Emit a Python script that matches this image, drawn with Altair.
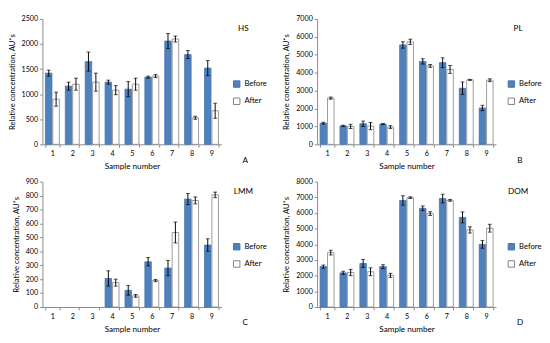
import altair as alt
import pandas as pd

samples = ["1", "2", "3", "4", "5", "6", "7", "8", "9"]
groups = ["Before", "After"]

hs_before = [1420, 1160, 1650, 1240, 1100, 1340, 2060, 1790, 1520]
hs_before_err = [60, 80, 190, 40, 150, 20, 150, 80, 150]
hs_after = [900, 1200, 1240, 1080, 1200, 1360, 2100, 530, 670]
hs_after_err = [140, 120, 180, 90, 120, 30, 60, 30, 150]

pl_before = [1180, 1030, 1150, 1130, 5550, 4630, 4560, 3130, 2030]
pl_before_err = [50, 40, 150, 30, 180, 150, 270, 350, 150]
pl_after = [2580, 1000, 1020, 960, 5720, 4380, 4180, 3600, 3580]
pl_after_err = [60, 120, 200, 80, 150, 80, 220, 30, 80]

lmm_before = [None, None, None, 205, 120, 325, 280, 775, 445]
lmm_before_err = [None, None, None, 55, 35, 30, 55, 40, 45]
lmm_after = [None, None, None, 175, 80, 190, 535, 765, 805]
lmm_after_err = [None, None, None, 25, 10, 8, 75, 25, 20]

dom_before = [2580, 2180, 2780, 2580, 6800, 6300, 6920, 5720, 4000]
dom_before_err = [100, 100, 250, 120, 300, 150, 280, 350, 250]
dom_after = [3470, 2200, 2250, 2020, 6980, 5960, 6810, 4920, 5030]
dom_after_err = [150, 200, 250, 130, 50, 120, 60, 200, 250]

FONT = "Lato"
BLUE = "#4f81bd"
W, H = 187, 131


def panel(name, letter, before, before_err, after, after_err, ymax, ystep):
    rows = []
    for i, s in enumerate(samples):
        for g, vals, errs in (("Before", before, before_err), ("After", after, after_err)):
            v = vals[i]
            if v is None:
                continue
            rows.append(dict(sample=s, group=g, value=v, lo=v - errs[i], hi=v + errs[i]))
    df = pd.DataFrame(rows)

    x_axis = alt.Axis(title="Sample number", labelAngle=0, tickBand="extent",
                      labelFontSize=7.5, titleFontSize=8.5, titleFontWeight="normal",
                      domainColor="#888888", tickColor="#888888", tickSize=3,
                      labelFont=FONT, titleFont=FONT, labelPadding=3, titlePadding=5)
    x_scale = alt.Scale(domain=samples, paddingInner=0.3, paddingOuter=0.15)
    xo = alt.XOffset("group:N", scale=alt.Scale(domain=groups, paddingInner=0.12))
    y_axis = alt.Axis(title="Relative concentration, AU*s", values=list(range(0, ymax + 1, ystep)),
                      format="d", labelOverlap=False,
                      labelFontSize=7.5, titleFontSize=8, titleFontWeight="normal",
                      domainColor="#888888", tickColor="#888888", tickSize=3, grid=False,
                      labelFont=FONT, titleFont=FONT, labelPadding=2, titlePadding=5)
    y_scale = alt.Scale(domain=[0, ymax], nice=False)

    def X():
        return alt.X("sample:N", scale=x_scale, axis=x_axis)

    def Y(field):
        return alt.Y(field, scale=y_scale, axis=y_axis)

    leg = alt.Legend(title=None, orient="none", legendX=W + 12, legendY=64, symbolType="square",
                     symbolSize=45, labelFontSize=8, labelFont=FONT, rowPadding=6,
                     symbolStrokeWidth=1)
    bars = alt.Chart(df).mark_bar(strokeWidth=0.8).encode(
        x=X(), xOffset=xo, y=Y("value:Q"),
        fill=alt.Fill("group:N", scale=alt.Scale(domain=groups, range=[BLUE, "white"]), legend=leg),
        stroke=alt.Stroke("group:N", scale=alt.Scale(domain=groups, range=["#4573ad", "#7f7f7f"]), legend=leg),
    )
    rule = alt.Chart(df).mark_rule(color="black", strokeWidth=1).encode(
        x=X(), xOffset=xo, y=Y("lo:Q"), y2="hi:Q"
    )
    cap_hi = alt.Chart(df).mark_tick(color="black", size=4, thickness=1).encode(
        x=X(), xOffset=xo, y=Y("hi:Q")
    )
    cap_lo = alt.Chart(df).mark_tick(color="black", size=4, thickness=1).encode(
        x=X(), xOffset=xo, y=Y("lo:Q")
    )
    name_txt = alt.Chart(pd.DataFrame({"t": [name]})).mark_text(
        fontSize=8.5, font=FONT, align="center", baseline="middle", color="black"
    ).encode(text="t:N", x=alt.value(W + 23), y=alt.value(10))
    letter_txt = alt.Chart(pd.DataFrame({"t": [letter]})).mark_text(
        fontSize=8.5, font=FONT, align="center", baseline="middle", color="black"
    ).encode(text="t:N", x=alt.value(W + 25), y=alt.value(H + 16))
    return alt.layer(bars, rule, cap_hi, cap_lo, name_txt, letter_txt).properties(width=W, height=H)


pa = panel("HS", "A", hs_before, hs_before_err, hs_after, hs_after_err, 2500, 500)
pb = panel("PL", "B", pl_before, pl_before_err, pl_after, pl_after_err, 7000, 1000)
pc = panel("LMM", "C", lmm_before, lmm_before_err, lmm_after, lmm_after_err, 900, 100)
pd_ = panel("DOM", "D", dom_before, dom_before_err, dom_after, dom_after_err, 8000, 1000)

chart = alt.concat(pa, pb, pc, pd_, columns=2, spacing={"row": 8, "column": 16})
chart = chart.resolve_scale(
    x="independent", y="independent", fill="independent", stroke="independent", xOffset="independent"
).resolve_legend(fill="independent", stroke="independent").properties(padding=0).configure_view(stroke=None)

chart.save("out.html", embed_options={"renderer": "svg", "actions": False})
